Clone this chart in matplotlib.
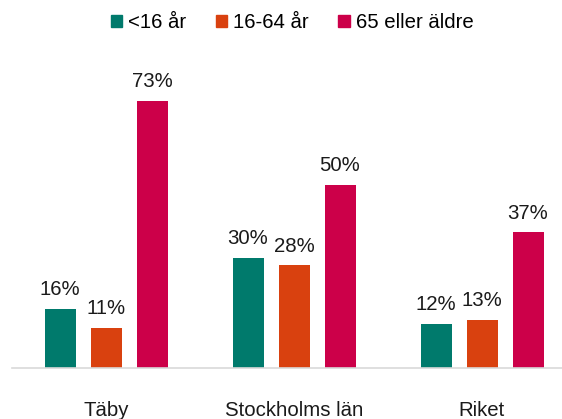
import matplotlib.pyplot as plt
import numpy as np
from matplotlib.patches import Patch

plt.rcParams['font.family'] = ['Liberation Sans', 'DejaVu Sans']

regions = ['Täby', 'Stockholms län', 'Riket']
series = ['<16 år', '16-64 år', '65 eller äldre']
values = [
    [16, 30, 12],
    [11, 28, 13],
    [73, 50, 37],
]
colors = ['#007A6C', '#D9410F', '#CC0049']

W, H = 562, 419
fs = 14.7
fig = plt.figure(figsize=(W / 100, H / 100), dpi=100)
# axes runs past the right edge of the figure, like the reference
ax = fig.add_axes([12 / W, 51 / H, 564 / W, 293 / H])

x = np.arange(len(regions))
bw = 31 / 188
step = 46 / 188
for i, (name, vals, c) in enumerate(zip(series, values, colors)):
    pos = x + (i - 1) * step
    bars = ax.bar(pos, vals, width=bw, color=c, label=name)
    for b, v in zip(bars, vals):
        ax.text(b.get_x() + b.get_width() / 2, v + 3.8, f'{v}%',
                ha='center', va='baseline', fontsize=fs, color='#1a1a1a')

ax.set_xlim(-0.5, 2.5)
ax.set_ylim(0, 80)
ax.set_yticks([])
ax.set_xticks(x)
ax.set_xticklabels(regions, fontsize=fs, color='#1a1a1a')
ax.tick_params(axis='x', length=0, pad=23.5)
for s in ['top', 'right', 'left']:
    ax.spines[s].set_visible(False)
ax.spines['bottom'].set_color('#d9d9d9')
ax.spines['bottom'].set_linewidth(1.2)

handles = [Patch(color=c, label=n) for n, c in zip(series, colors)]
fig.legend(handles=handles, loc='center', bbox_to_anchor=(292 / W, 1 - 23 / H),
           ncol=3, frameon=False, fontsize=fs, handlelength=0.55,
           handleheight=0.55, handletextpad=0.3, columnspacing=1.45,
           borderpad=0, borderaxespad=0)

fig.savefig('out.png', dpi=100)
